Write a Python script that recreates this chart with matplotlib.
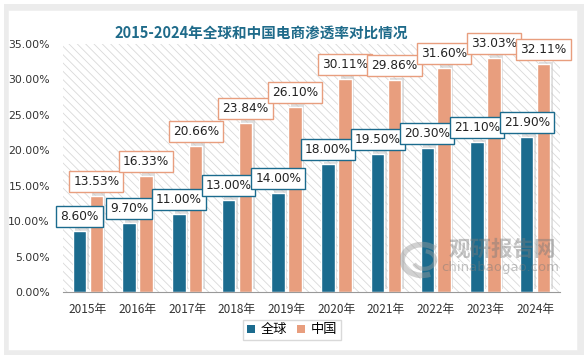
import matplotlib
matplotlib.use("Agg")
import matplotlib.pyplot as plt
from matplotlib.patches import Rectangle, Arc
import numpy as np

plt.rcParams['font.family'] = ['Noto Sans CJK SC', 'DejaVu Sans']
plt.rcParams['hatch.linewidth'] = 0.6

years = ["2015年", "2016年", "2017年", "2018年", "2019年", "2020年", "2021年", "2022年", "2023年", "2024年"]
global_vals = [8.60, 9.70, 11.00, 13.00, 14.00, 18.00, 19.50, 20.30, 21.10, 21.90]
china_vals = [13.53, 16.33, 20.66, 23.84, 26.10, 30.11, 29.86, 31.60, 33.03, 32.11]
series_names = ["全球", "中国"]
title = "2015-2024年全球和中国电商渗透率对比情况"

blue = "#1B6B8E"
orange = "#E89E7E"

fig = plt.figure(figsize=(5.86, 3.59), dpi=100)
fig.patch.set_facecolor("white")

W, H = 586, 359
shadow = Rectangle((4 / W, 1 - 355 / H), 580 / W, 351 / H, transform=fig.transFigure,
                   facecolor="#ececec", edgecolor="none", zorder=-2)
fig.patches.append(shadow)
card = Rectangle((8 / W, 1 - 350 / H), 569 / W, 340 / H, transform=fig.transFigure,
                 facecolor="white", edgecolor="#eeeeee", lw=0.5, zorder=-1)
fig.patches.append(card)

ax = fig.add_axes([63 / W, 1 - 292 / H, (560 - 63) / W, (292 - 44) / H])
ax.set_facecolor("none")
ax.set_zorder(1)

x = np.arange(len(years))
bw = 0.27
off = 0.17

bg = Rectangle((0, 0), 1, 1, transform=ax.transAxes, facecolor="white",
               edgecolor="#d9d9d9", hatch="\\\\\\\\", lw=0, zorder=0)
ax.add_patch(bg)

ax.bar(x - off + 0.05, global_vals, bw, bottom=0.4, color="#c8c8c8", alpha=0.6, zorder=1, linewidth=0)
ax.bar(x + off + 0.05, china_vals, bw, bottom=0.4, color="#c8c8c8", alpha=0.6, zorder=1, linewidth=0)

b1 = ax.bar(x - off, global_vals, bw, color=blue, edgecolor="white", linewidth=1.0, zorder=2, label=series_names[0])
b2 = ax.bar(x + off, china_vals, bw, color=orange, edgecolor="white", linewidth=1.0, zorder=2, label=series_names[1])

for xi, v in zip(x, china_vals):
    ax.annotate(f"{v:.2f}%", (xi + off, v), xytext=(0, 10.5), textcoords="offset points",
                ha="center", va="center", fontsize=8.7, color="#222222", zorder=5,
                family=["DejaVu Sans"],
                bbox=dict(boxstyle="square,pad=0.33", facecolor="white", edgecolor=orange, lw=1.0))
for xi, v in zip(x, global_vals):
    ax.annotate(f"{v:.2f}%", (xi - off, v), xytext=(0, 10.5), textcoords="offset points",
                ha="center", va="center", fontsize=8.7, color="#222222", zorder=6,
                family=["DejaVu Sans"],
                bbox=dict(boxstyle="square,pad=0.33", facecolor="white", edgecolor=blue, lw=1.0))

ax.set_xlim(-0.5, len(years) - 0.5)
ax.set_ylim(0, 35)
ax.set_yticks(np.arange(0, 35.01, 5))
ax.set_yticklabels([f"{t:.2f}%" for t in np.arange(0, 35.01, 5)], fontsize=7.8, color="#333333",
                   family=["DejaVu Sans"])
ax.set_xticks(x)
ax.set_xticklabels(years, fontsize=8.5, color="#333333")
ax.tick_params(axis="y", length=0, pad=9.5)
ax.tick_params(axis="x", length=0, pad=8)
for s in ["top", "right", "left"]:
    ax.spines[s].set_visible(False)
ax.spines["bottom"].set_color("#999999")
ax.spines["bottom"].set_zorder(3)

fig.text(0.5 * (122 + 400) / W, 1 - 33 / H, title, ha="center", va="center",
         fontsize=10.5, fontweight="bold", color="#1F6B8A")

# watermark
fig.text(502 / W, 1 - 249 / H, "观研报告网", ha="center", va="center", fontsize=15.5,
         fontweight="bold", color="#7a7a7a", alpha=0.45, zorder=10)
fig.text(500 / W, 1 - 268 / H, "chinabaogao.com", ha="center", va="center", fontsize=9.5,
         color="#7a7a7a", alpha=0.45, zorder=10, family=["DejaVu Sans"])
lax = fig.add_axes([400 / W, 1 - 282 / H, 44 / W, 44 / H])
lax.set_zorder(10)
lax.axis("off")
lax.set_xlim(-1, 1)
lax.set_ylim(-1, 1)
lax.add_patch(Arc((0, 0), 1.8, 1.4, theta1=40, theta2=300, lw=4, color="#9a9a9a", alpha=0.45))
lax.add_patch(Arc((0.1, 0), 1.0, 0.8, theta1=200, theta2=80, lw=3, color="#9a9a9a", alpha=0.45))

leg = fig.legend(handles=[b1, b2], labels=series_names, loc="center",
                 bbox_to_anchor=(292 / W, 1 - 330 / H), ncol=2, fontsize=9.5,
                 frameon=True, fancybox=False, edgecolor="#d0d0d0",
                 handlelength=0.6, handleheight=0.6, handletextpad=0.4, columnspacing=0.8,
                 borderpad=0.3)
for h in leg.legend_handles:
    h.set_edgecolor("none")

fig.savefig("out.png", dpi=100)
